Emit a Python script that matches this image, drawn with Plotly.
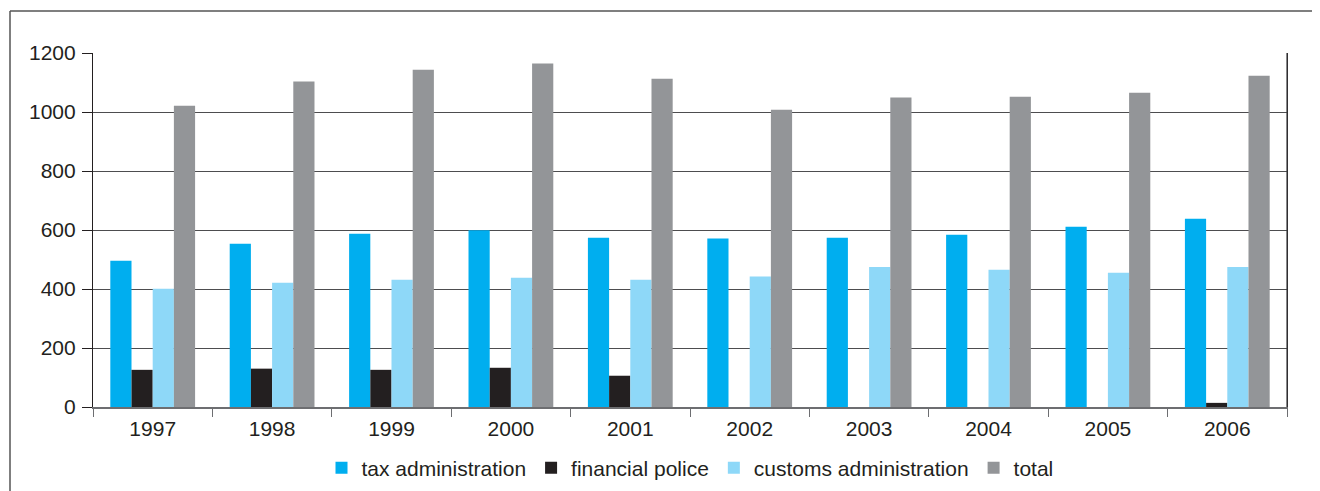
import plotly.graph_objects as go

years = ["1997", "1998", "1999", "2000", "2001", "2002", "2003", "2004", "2005", "2006"]
tax_administration = [496, 553, 587, 599, 574, 571, 574, 584, 611, 638]
financial_police = [126, 130, 126, 133, 106, 0, 0, 0, 0, 14]
customs_administration = [401, 421, 431, 438, 431, 442, 475, 465, 455, 475]
total = [1021, 1103, 1143, 1164, 1113, 1008, 1049, 1052, 1065, 1123]
y_ticks = [0, 200, 400, 600, 800, 1000, 1200]

series = [
    ("tax administration", tax_administration, "#00AEEF"),
    ("financial police", financial_police, "#231F20"),
    ("customs administration", customs_administration, "#8ED8F8"),
    ("total", total, "#939598"),
]

fig = go.Figure()
for name, vals, color in series:
    fig.add_trace(go.Bar(x=years, y=vals, name=name, marker=dict(color=color, line=dict(width=0))))

font = dict(family="Liberation Sans, Arial, sans-serif", size=21, color="#231F20")

# page body has an 8px margin; the figure is sized so it fits the window
OFF = 8
W, H = 1320 - OFF, 491 - OFF
L, T = 93 - OFF, 53 - OFF
R = W - (1287 - OFF)
B = H - (407 - OFF)
pw, ph = W - L - R, H - T - B

fig.update_layout(
    width=W, height=H,
    margin=dict(l=L, r=R, t=T, b=B, autoexpand=False),
    paper_bgcolor="white", plot_bgcolor="white",
    barmode="group", bargap=0.29, bargroupgap=0,
    font=font,
    showlegend=True,
    legend=dict(orientation="h", x=0.5, xanchor="center", y=(H - (468 - OFF) - B) / ph, yanchor="middle",
                font=font, traceorder="normal", itemwidth=30),
    xaxis=dict(tickson="boundaries", ticks="outside", ticklen=8, tickcolor="#6D6E71",
               showline=True, linecolor="#6D6E71", linewidth=2, mirror=False,
               showgrid=False, tickfont=font, automargin=False, ticklabelstandoff=2),
    yaxis=dict(range=[0, 1200], tickvals=y_ticks, ticks="outside", ticklen=10,
               tickcolor="#231F20", showline=True, linecolor="#231F20", linewidth=1.2,
               mirror=True, showgrid=True, gridcolor="#4D4D4F", gridwidth=1.3,
               zeroline=False, tickfont=font, automargin=False, ticklabelstandoff=2),
)
# right border of plot area
fig.add_shape(type="line", xref="paper", yref="paper", x0=1, x1=1, y0=0, y1=1,
              line=dict(color="#3A3A3C", width=1.2))
# outer frame (top and left)
fx = ((10 - OFF) - L) / pw
fy = (H - (11 - OFF) - B) / ph
fig.add_shape(type="line", xref="paper", yref="paper", x0=fx, x1=(W - L + 5) / pw, y0=fy, y1=fy,
              line=dict(color="#555555", width=1.5))
fig.add_shape(type="line", xref="paper", yref="paper", x0=fx, x1=fx, y0=fy, y1=-(B + 5) / ph,
              line=dict(color="#555555", width=1.5))

fig.write_html("out.html")
